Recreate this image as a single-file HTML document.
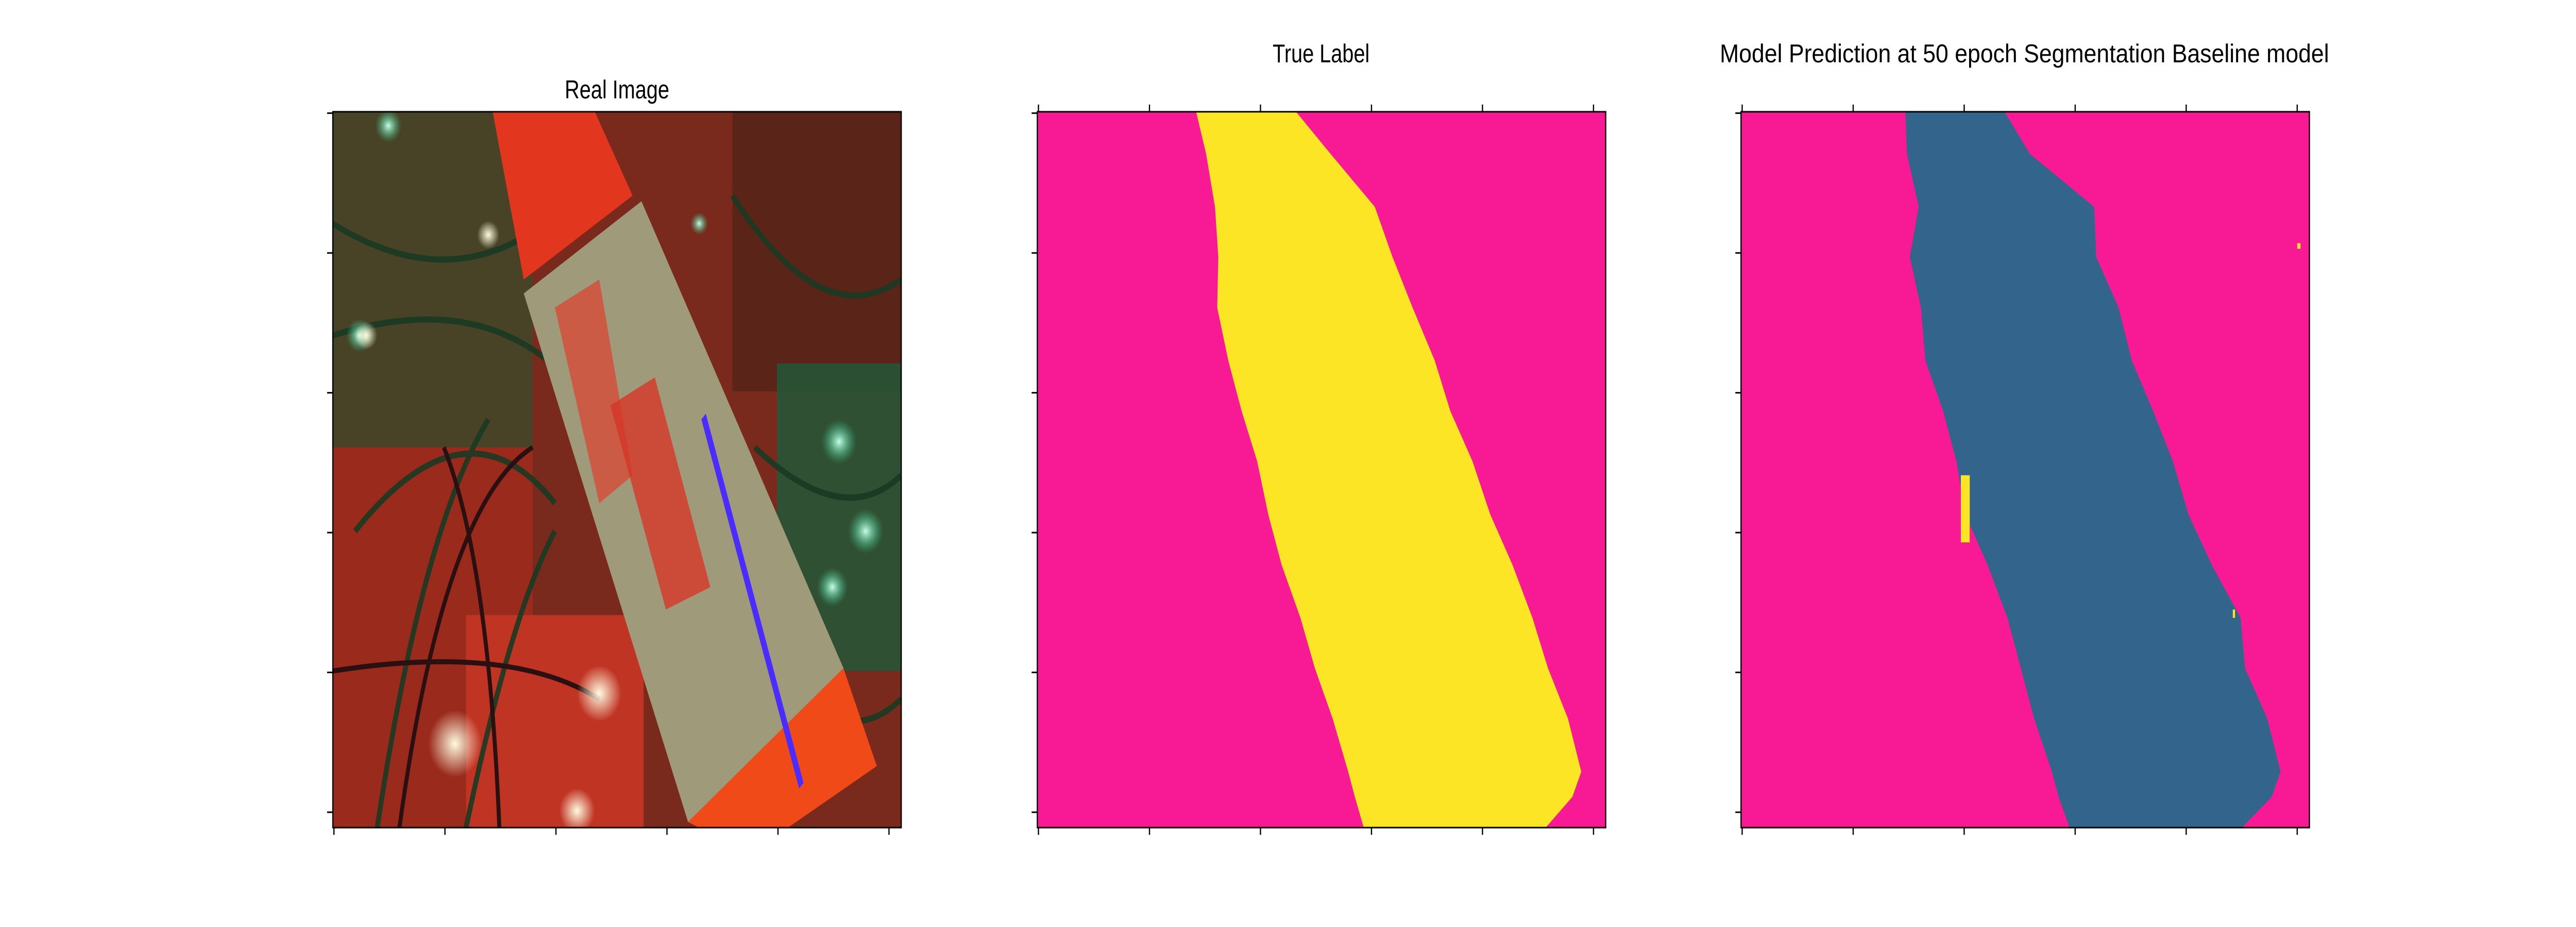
<!DOCTYPE html>
<html><head><meta charset="utf-8"><style>
html,body{margin:0;padding:0;background:#fff;overflow:hidden;width:100vw;height:100vh;}
svg{display:block;width:100vw;height:100vh;}
text{font-family:"Liberation Sans","DejaVu Sans",sans-serif;}
</style></head><body>
<svg id="fig" viewBox="0 0 6300 1800" preserveAspectRatio="none" xmlns="http://www.w3.org/2000/svg">
<text x="1509" y="191" font-size="50" text-anchor="middle">Real Image</text>
<text x="3231" y="121" font-size="50" text-anchor="middle">True Label</text>
<text x="4951" y="121" font-size="50" text-anchor="middle" textLength="1490" lengthAdjust="spacingAndGlyphs">Model Prediction at 50 epoch Segmentation Baseline model</text>

<g id="p1" transform="translate(814,217) scale(5.4297)">
  <defs>
    <clipPath id="c1"><rect x="0" y="0" width="256" height="256"/></clipPath>
    <radialGradient id="glow"><stop offset="0" stop-color="#fffbe0"/><stop offset="1" stop-color="#fffbe0" stop-opacity="0"/></radialGradient>
    <radialGradient id="glowg"><stop offset="0" stop-color="#c8ffe8"/><stop offset="1" stop-color="#20c080" stop-opacity="0"/></radialGradient>
  </defs>
  <g clip-path="url(#c1)">
    <rect width="256" height="256" fill="#7a2a1c"/>
    <rect x="0" y="0" width="90" height="120" fill="#3c4a2a" opacity="0.8"/>
    <rect x="180" y="0" width="76" height="100" fill="#5a2418"/>
    <rect x="200" y="90" width="56" height="110" fill="#1e5a3a" opacity="0.8"/>
    <rect x="0" y="120" width="90" height="136" fill="#9a2a1c"/>
    <rect x="60" y="180" width="80" height="76" fill="#c03424"/>
    <g stroke="#1a3a22" stroke-width="2.2" fill="none" opacity="0.9">
      <path d="M0 40 Q60 70 110 30"/><path d="M0 80 Q80 60 120 110"/><path d="M10 150 Q60 100 100 140"/>
      <path d="M180 30 Q220 80 256 60"/><path d="M190 120 Q230 150 256 130"/><path d="M200 200 Q230 230 256 210"/>
      <path d="M20 256 Q40 150 70 110"/><path d="M60 256 Q80 180 100 150"/>
    </g>
    <g stroke="#2a1010" stroke-width="1.8" fill="none">
      <path d="M30 256 Q50 140 90 120"/><path d="M75 256 Q70 160 50 120"/><path d="M0 200 Q80 190 120 210"/>
    </g>
    <path d="M72 0 L118 0 L135 30 L86 60 Z" fill="#e3361e"/>
    <path d="M86 65 L139 32 L230 199 L160 254 Z" fill="#9e9a7a"/>
    <path d="M160 254 L230 199 L245 234 L205 256 L165 256 Z" fill="#f04a18"/>
    <path d="M100 70 L120 60 L135 130 L120 140 Z" fill="#e04030" opacity="0.7"/>
    <path d="M125 105 L145 95 L170 170 L150 178 Z" fill="#d63628" opacity="0.8"/>
    <path d="M166 110 L168 108 L212 240 L210 242 Z" fill="#4a2cff"/>
    <circle cx="25" cy="5" r="6" fill="url(#glowg)"/>
    <circle cx="70" cy="44" r="5" fill="url(#glow)"/>
    <circle cx="12" cy="80" r="6" fill="url(#glowg)"/>
    <circle cx="15" cy="80" r="5" fill="url(#glow)"/>
    <circle cx="55" cy="226" r="12" fill="url(#glow)"/>
    <circle cx="120" cy="208" r="10" fill="url(#glow)"/>
    <circle cx="110" cy="250" r="8" fill="url(#glow)"/>
    <circle cx="240" cy="150" r="8" fill="url(#glowg)"/>
    <circle cx="225" cy="170" r="7" fill="url(#glowg)"/>
    <circle cx="228" cy="118" r="8" fill="url(#glowg)"/>
    <circle cx="165" cy="40" r="4" fill="url(#glowg)"/>
  </g>
  <rect width="256" height="256" fill="none" stroke="#000" stroke-width="0.5"/>
</g>

<g id="p2"></g>
<g id="p3"></g>
<g id="axes"></g>
</svg>
<script>
// mask boundaries in image pixel units (256x256 images)
const rows = [0, 15, 34, 52, 70, 89, 107, 125, 144, 162, 181, 199, 217, 236, 245, 256];
const trueLeft  = [71.5, 76, 80, 81.5, 81, 86, 92, 99, 104, 110, 118.5, 125, 133, 140, 143, 147];
const trueRight = [116.5, 132, 152, 160, 169, 179, 186, 196, 204, 214, 223, 230, 239, 245, 241, 229];
const predLeft  = [74, 74.7, 80, 76, 81, 83, 91, 97, 101, 111, 120, 126, 132, 140, 143, 148];
const predRight = [118.7, 130, 159, 160, 170, 176, 185.6, 194.5, 201.5, 212, 225, 227, 237, 243, 239, 225.6];
// spurious yellow spots in prediction
const spotX = [99, 250.5, 221.5];
const spotY = [130, 47, 178];
const spotW = [4, 1.5, 1];
const spotH = [24, 2, 3];
const tickVals = [0, 50, 100, 150, 200, 250];

const NS = 'http://www.w3.org/2000/svg';
const PANEL = 1390, IMG = 256, TOP = 217;
const lefts = [814, 2537, 4258];
const PINK = '#f71a94', YEL = '#fce524', BLUE = '#33658c';
function sx(panel, v) { return lefts[panel] + v / IMG * PANEL; }
function sy(v) { return TOP + v / IMG * PANEL; }

function mk(tag, attrs, parent) {
  const el = document.createElementNS(NS, tag);
  for (const k in attrs) el.setAttribute(k, attrs[k]);
  parent.appendChild(el);
  return el;
}
function maskPanel(panel, gid, L, R, color) {
  const g = document.getElementById(gid);
  const bg = mk('rect', {x: lefts[panel], y: TOP, width: PANEL, height: PANEL, fill: PINK}, g);
  
  
  let pts = [];
  for (let i = 0; i < rows.length; i++) pts.push(sx(panel, L[i]) + ',' + sy(rows[i]));
  for (let i = rows.length - 1; i >= 0; i--) pts.push(sx(panel, R[i]) + ',' + sy(rows[i]));
  const poly = mk('polygon', {points: pts.join(' '), fill: color}, g);
  
  
  return g;
}
maskPanel(1, 'p2', trueLeft, trueRight, YEL);
const g3 = maskPanel(2, 'p3', predLeft, predRight, BLUE);
for (let i = 0; i < spotX.length; i++) {
  const r = mk('rect', {x: sx(2, spotX[i]), y: sy(spotY[i]), width: spotW[i] / IMG * PANEL, height: spotH[i] / IMG * PANEL, fill: YEL}, g3);
  
  
}
const ax = document.getElementById('axes');
for (let p = 0; p < 3; p++) {
  const frame = mk('rect', {x: lefts[p], y: TOP, width: PANEL, height: PANEL, fill: 'none', stroke: '#000', 'stroke-width': 3}, ax);
  
  
  for (const v of tickVals) {
    const x = sx(p, v + 0.5), y = sy(v + 0.5);
    const tb = mk('line', {x1: x, x2: x, y1: TOP + PANEL, y2: TOP + PANEL + 14, stroke: '#000', 'stroke-width': 3}, ax);
    
    
    const tl = mk('line', {x1: lefts[p] - 14, x2: lefts[p], y1: y, y2: y, stroke: '#000', 'stroke-width': 3}, ax);
    
    
    if (p > 0) {
      const tt = mk('line', {x1: x, x2: x, y1: TOP - 14, y2: TOP, stroke: '#000', 'stroke-width': 3}, ax);
      
      
    }
  }
}
</script>
</body></html>
